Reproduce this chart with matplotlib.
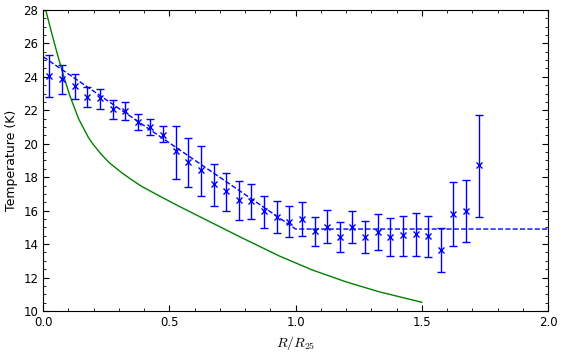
import matplotlib
matplotlib.use('Agg')
import matplotlib.pyplot as plt
from matplotlib.ticker import AutoMinorLocator, MultipleLocator

plt.rcParams['mathtext.fontset'] = 'cm'

# radial bins (R/R25) and measured temperatures with error bars
r_bins = [0.025, 0.075, 0.125, 0.175, 0.225, 0.275, 0.325, 0.375, 0.425, 0.475,
          0.525, 0.575, 0.625, 0.675, 0.725, 0.775, 0.825, 0.875, 0.925, 0.975,
          1.025, 1.075, 1.125, 1.175, 1.225, 1.275, 1.325, 1.375, 1.425, 1.475,
          1.525, 1.575, 1.625, 1.675, 1.725]
t_meas = [24.05, 23.9, 23.45, 22.8, 22.75, 22.1, 21.95, 21.3, 21.0, 20.5,
          19.55, 18.9, 18.45, 17.6, 17.15, 16.65, 16.6, 16.0, 15.6, 15.3,
          15.5, 14.8, 15.05, 14.45, 15.05, 14.45, 14.75, 14.45, 14.55, 14.6,
          14.5, 13.65, 15.8, 16.0, 18.7]
t_lo = [22.8, 23.0, 22.7, 22.2, 22.1, 21.5, 21.4, 20.8, 20.5, 20.1,
        17.9, 17.4, 16.9, 16.3, 16.0, 15.45, 15.5, 14.95, 14.65, 14.4,
        14.5, 13.9, 14.05, 13.55, 14.05, 13.45, 13.65, 13.3, 13.3, 13.3,
        13.25, 12.35, 13.9, 14.1, 15.6]
t_hi = [25.3, 24.7, 24.15, 23.4, 23.3, 22.6, 22.5, 21.8, 21.5, 21.05,
        21.05, 20.35, 19.85, 18.8, 18.25, 17.8, 17.6, 16.9, 16.6, 16.3,
        16.5, 15.6, 16.05, 15.3, 16.0, 15.4, 15.8, 15.55, 15.7, 15.85,
        15.7, 14.95, 17.7, 17.85, 21.7]

# broken-line fit
fit_r = [0.0, 1.0, 2.0]
fit_t = [25.2, 14.9, 14.9]

# model curve
model_r = [0.0, 0.01, 0.034, 0.06, 0.08, 0.105, 0.14, 0.179, 0.197, 0.231,
           0.263, 0.31, 0.35, 0.39, 0.46, 0.533, 0.632, 0.777, 0.935, 1.066,
           1.198, 1.33, 1.5]
model_t = [28.6, 28.0, 26.6, 25.15, 24.1, 22.9, 21.5, 20.38, 19.98, 19.35,
           18.85, 18.28, 17.85, 17.45, 16.88, 16.3, 15.55, 14.45, 13.29, 12.45,
           11.75, 11.15, 10.52]

err_lo = [m - l for m, l in zip(t_meas, t_lo)]
err_hi = [h - m for m, h in zip(t_meas, t_hi)]

fig = plt.figure(figsize=(5.68, 3.55), dpi=100)
ax = fig.add_axes([0.076, 0.124, 0.889, 0.848])

ax.plot(model_r, model_t, color='#008000', lw=1.0)
ax.plot(fit_r, fit_t, 'b--', lw=1.0)
ax.errorbar(r_bins, t_meas, yerr=[err_lo, err_hi], fmt='x', color='b',
            ms=5, mew=1.0, elinewidth=1.0, capsize=3, capthick=1.0)

ax.set_xlim(0, 2.0)
ax.set_ylim(10, 28)
ax.xaxis.set_major_locator(MultipleLocator(0.5))
ax.xaxis.set_minor_locator(AutoMinorLocator(5))
ax.yaxis.set_major_locator(MultipleLocator(2))
ax.yaxis.set_minor_locator(AutoMinorLocator(4))
ax.tick_params(which='both', direction='in', top=True, right=True, labelsize=8.5)
ax.tick_params(which='major', length=4)
ax.tick_params(which='minor', length=2)

ax.set_xlabel(r'$R/R_{25}$', fontsize=10)
ax.set_ylabel('Temperature (K)', fontsize=9)

fig.savefig('out.png', dpi=100)
